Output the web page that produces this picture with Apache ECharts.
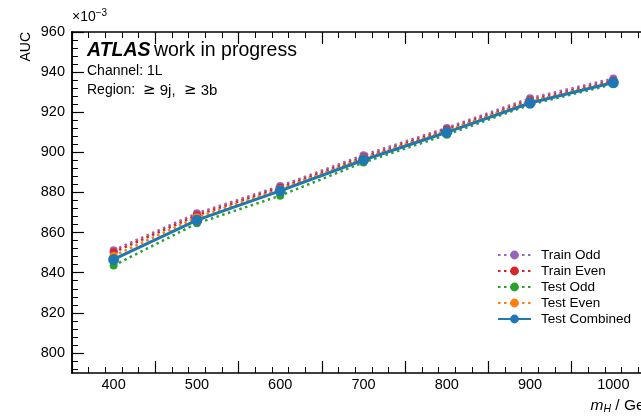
<!DOCTYPE html>
<html>
<head>
<meta charset="utf-8">
<script src="https://cdn.jsdelivr.net/npm/echarts@6/dist/echarts.min.js"></script>
<style>
html,body{margin:0;padding:0;background:#fff;}
#c{width:641px;height:419px;}
</style>
</head>
<body>
<div id="c"></div>
<script>
const masses = [400, 500, 600, 700, 800, 900, 1000];
const trainOdd  = [851.2, 869.6, 883.2, 898.6, 912.2, 927.0, 936.8];
const trainEven = [850.2, 868.6, 882.4, 897.6, 911.4, 926.0, 935.8];
const testOdd   = [843.6, 864.6, 878.4, 895.0, 908.8, 923.8, 934.0];
const testEven  = [848.4, 867.6, 881.6, 897.0, 910.8, 925.4, 935.2];
const testComb  = [846.6, 866.2, 880.8, 896.2, 910.0, 924.6, 934.8];
const yTicks = [800, 820, 840, 860, 880, 900, 920, 940, 960];
const yMinorTicks = [792, 796, 804, 808, 812, 816, 824, 828, 832, 836, 844, 848, 852, 856,
  864, 868, 872, 876, 884, 888, 892, 896, 904, 908, 912, 916, 924, 928, 932, 936,
  944, 948, 952, 956];
const xTicks = [400, 500, 600, 700, 800, 900, 1000];

const FONT = 'Liberation Sans';
const colors = {
  trainOdd: '#9467bd', trainEven: '#d62728', testOdd: '#2ca02c',
  testEven: '#ff7f0e', testComb: '#1f77b4'
};

function pairs(vals){ return masses.map((m,i)=>[m, vals[i]]); }
function dotted(name, vals, color){
  return {
    name, type: 'line', data: pairs(vals), color,
    symbol: 'circle', symbolSize: 8,
    lineStyle: {color, width: 2.5, type: [2.5, 3.5], cap: 'butt'},
    itemStyle: {color},
    emphasis: {disabled: true}
  };
}

const chart = echarts.init(document.getElementById('c'), null, {renderer: 'canvas'});
const axisLineStyle = {color: '#000', width: 1.5};
const tickLbl = {color: '#000', fontSize: 14.5, fontFamily: FONT};
chart.setOption({
  backgroundColor: '#fff',
  animation: false,
  textStyle: {fontFamily: FONT},
  grid: {left: 72, width: 583, top: 32, height: 341, containLabel: false, outerBoundsMode: 'none'},
  xAxis: [{
    type: 'value', min: 350, max: 1050, interval: 100,
    position: 'bottom',
    axisLine: {show: true, onZero: false, lineStyle: axisLineStyle},
    axisTick: {show: true, inside: true, length: 12, lineStyle: {color: '#000', width: 1.2}},
    minorTick: {show: true, splitNumber: 5, length: 6, lineStyle: {color: '#000', width: 1}},
    splitLine: {show: false},
    axisLabel: Object.assign({margin: 4, customValues: xTicks, formatter: v => String(v)}, tickLbl),
    name: '{i|m}{s|H} / GeV',
    nameLocation: 'end', nameGap: 0,
    nameTextStyle: {
      align: 'right', verticalAlign: 'top', padding: [24, 0, 0, 0],
      color: '#000', fontSize: 15.5, fontFamily: FONT,
      rich: {
        i: {fontStyle: 'italic', fontSize: 15.5, fontFamily: FONT, color: '#000'},
        s: {fontStyle: 'italic', fontSize: 10.5, fontFamily: FONT, color: '#000', verticalAlign: 'bottom', padding: [7, 0, 0, 0]}
      }
    }
  }, {
    type: 'value', min: 350, max: 1050, interval: 100,
    position: 'top',
    axisLine: {show: true, onZero: false, lineStyle: axisLineStyle},
    axisTick: {show: true, inside: true, length: 12, lineStyle: {color: '#000', width: 1.2}},
    minorTick: {show: true, splitNumber: 5, length: 6, lineStyle: {color: '#000', width: 1}},
    splitLine: {show: false},
    axisLabel: {show: false}
  }],
  yAxis: [{
    type: 'value', min: 790, max: 960, position: 'left',
    axisLine: {show: true, onZero: false, lineStyle: axisLineStyle},
    axisTick: {show: true, inside: true, length: 12, customValues: yTicks, lineStyle: {color: '#000', width: 1.2}},
    minorTick: {show: false},
    splitLine: {show: false},
    axisLabel: Object.assign({margin: 7, customValues: yTicks}, tickLbl),
    name: 'AUC',
    nameLocation: 'end', nameGap: 0, nameRotate: 90,
    nameTextStyle: {
      align: 'right', verticalAlign: 'bottom', padding: [0, 0, 39, 0],
      color: '#000', fontSize: 14, fontFamily: FONT
    }
  }, {
    type: 'value', min: 790, max: 960, position: 'left', offset: 0,
    axisLine: {show: true, onZero: false, lineStyle: axisLineStyle},
    axisTick: {show: true, inside: true, length: 6, customValues: yMinorTicks, lineStyle: {color: '#000', width: 1}},
    splitLine: {show: false},
    axisLabel: {show: false, customValues: yMinorTicks}
  }],
  legend: {
    orient: 'vertical', left: 492, top: 243,
    itemWidth: 33, itemHeight: 11, itemGap: 2,
    textStyle: {color: '#000', fontSize: 13.5, fontFamily: FONT, padding: [0, 0, 0, 5]},
    data: ['Train Odd', 'Train Even', 'Test Odd', 'Test Even', 'Test Combined'],
    selectedMode: false
  },
  series: [
    dotted('Train Odd', trainOdd, colors.trainOdd),
    dotted('Train Even', trainEven, colors.trainEven),
    dotted('Test Odd', testOdd, colors.testOdd),
    dotted('Test Even', testEven, colors.testEven),
    {
      name: 'Test Combined', type: 'line', data: pairs(testComb), color: colors.testComb,
      symbol: 'circle', symbolSize: 11,
      lineStyle: {color: colors.testComb, width: 3},
      itemStyle: {color: colors.testComb},
      emphasis: {disabled: true}, z: 5
    }
  ],
  graphic: [
    {type: 'text', left: 72, top: 8, style: {
      text: '×10{s|−3}', fill: '#000', font: '14px ' + FONT,
      rich: {s: {fontSize: 10, fontFamily: FONT, fill: '#000', verticalAlign: 'top', padding: [0,0,8,0]}}
    }},
    {type: 'text', left: 87, top: 41, style: {
      text: '{b|ATLAS} {n|work in progress}',
      rich: {
        b: {fontSize: 19.5, fontWeight: 'bold', fontStyle: 'italic', fontFamily: FONT, fill: '#000'},
        n: {fontSize: 19.5, fontFamily: FONT, fill: '#000'}
      }
    }},
    {type: 'text', left: 87, top: 64, style: {text: 'Channel: 1L', fill: '#000', font: '14px ' + FONT}},
    {type: 'text', left: 87, top: 83, style: {
      text: 'Region:  {g|≥}{m| 9j,  }{g|≥}{m| 3b}', fill: '#000', font: '14px ' + FONT,
      rich: {
        m: {fontSize: 15, fontFamily: FONT, fill: '#000'},
        g: {fontSize: 15, fontFamily: 'DejaVu Sans', fill: '#000'}
      }
    }}
  ]
});
</script>
</body>
</html>
